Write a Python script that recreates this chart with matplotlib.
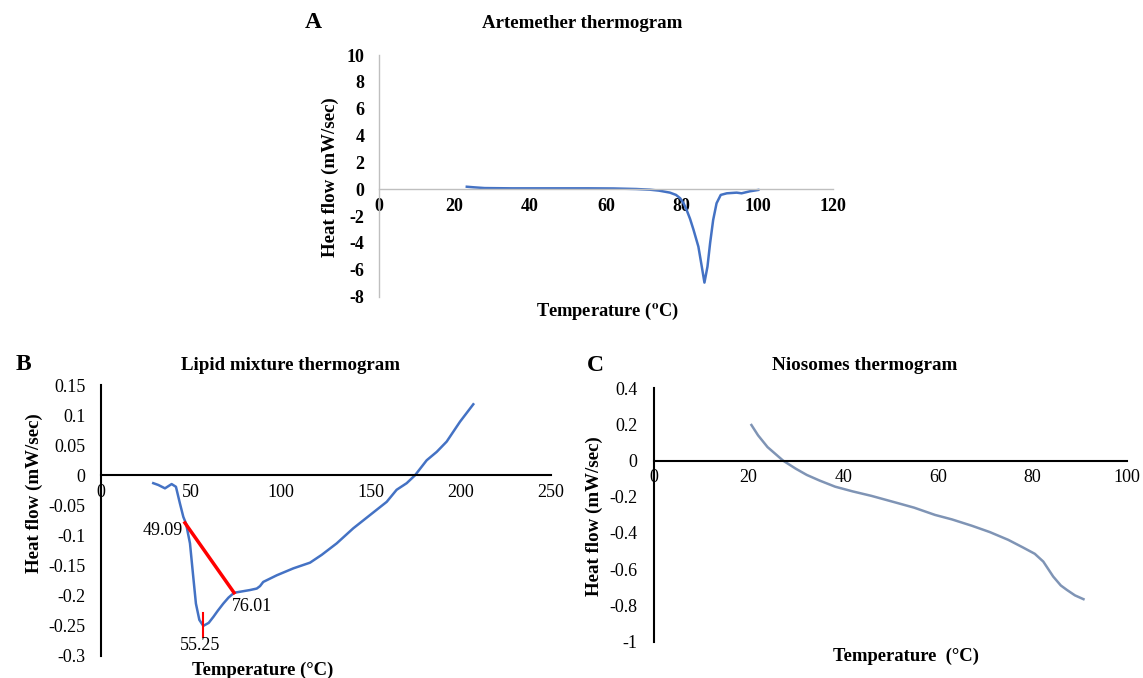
import numpy as np
import matplotlib
matplotlib.use('Agg')
import matplotlib.pyplot as plt

plt.rcParams['font.family'] = ['Liberation Serif', 'DejaVu Serif']
plt.rcParams['mathtext.fontset'] = 'stix'
plt.rcParams['axes.unicode_minus'] = False
plt.rcParams['lines.solid_joinstyle'] = 'round'

# --- A: Artemether thermogram ---
art_temp = [23.3, 25, 28, 35, 45, 55, 62, 68, 71.6, 74, 76.9, 78.5, 79.6, 80.5, 81.3, 82.2,
            83.1, 84.4, 85.3, 86.0, 86.8, 87.5, 88.3, 89.2, 90.3, 91.9, 94.5, 95.8, 98, 100.2]
art_flow = [0.19, 0.15, 0.09, 0.07, 0.07, 0.07, 0.06, 0.02, -0.03, -0.1, -0.25, -0.42, -0.67, -1.05,
            -1.54, -2.2, -3.0, -4.27, -5.76, -6.95, -5.76, -4.0, -2.29, -1.04, -0.42, -0.3, -0.25,
            -0.3, -0.15, -0.05]

# --- B: Lipid mixture thermogram ---
lip_temp = [29.2, 32, 35.7, 39.4, 41.8, 44, 45.9, 47.4, 49.6, 51.4, 52.9, 54.8, 57.0, 60, 62.6,
            65, 68.1, 71, 74.1, 78, 82.9, 86.7, 88.5, 90.3, 97.8, 107, 116.3, 122.8, 131.1,
            140.3, 149.6, 158.9, 164.4, 170, 174.6, 181.1, 186.7, 192.2, 199.6, 207]
lip_flow = [-0.013, -0.016, -0.0216, -0.0145, -0.019, -0.0465, -0.069, -0.08, -0.113, -0.168,
            -0.213, -0.240, -0.250, -0.245, -0.235, -0.225, -0.213, -0.203, -0.195, -0.193,
            -0.1905, -0.188, -0.184, -0.177, -0.166, -0.1545, -0.145, -0.132, -0.113, -0.088,
            -0.066, -0.044, -0.024, -0.013, 0.0, 0.025, 0.039, 0.056, 0.089, 0.118]
onset_line_x = [46.8, 74.1]
onset_line_y = [-0.079, -0.195]
peak_tick_x = [57.0, 57.0]
peak_tick_y = [-0.229, -0.268]

# --- C: Niosomes thermogram ---
nio_temp = [20.6, 22, 24, 27.3, 30, 32.3, 35, 38.3, 42, 46, 51.7, 55, 59.4, 63, 67.2, 71,
            74.9, 78, 80.5, 82.3, 84.4, 86, 87.3, 89, 90.8]
nio_flow = [0.197, 0.14, 0.075, 0.0, -0.045, -0.079, -0.11, -0.144, -0.17, -0.195, -0.236,
            -0.26, -0.30, -0.325, -0.36, -0.395, -0.438, -0.48, -0.515, -0.558, -0.641, -0.69,
            -0.715, -0.745, -0.766]

W, H = 1143, 678
fig = plt.figure(figsize=(W / 100, H / 100), dpi=100)


def px_axes(left, right, top, bottom):
    return fig.add_axes([left / W, 1 - bottom / H, (right - left) / W, (bottom - top) / H])


def style(ax, color, lw, bold, ypad):
    for s in ['top', 'right']:
        ax.spines[s].set_visible(False)
    ax.spines['bottom'].set_position(('data', 0))
    ax.spines['bottom'].set_color(color)
    ax.spines['left'].set_color(color)
    ax.spines['bottom'].set_linewidth(lw)
    ax.spines['left'].set_linewidth(lw)
    ax.tick_params(axis='both', length=0, labelsize=13)
    ax.tick_params(axis='y', pad=ypad)
    ax.tick_params(axis='x', pad=6)
    if bold:
        for lab in ax.get_xticklabels() + ax.get_yticklabels():
            lab.set_fontweight('bold')


blue = '#4472C4'

# panel A
axA = px_axes(378.5, 833.3, 55, 296.7)
axA.plot(art_temp, art_flow, color=blue, lw=1.8)
axA.set_xlim(0, 120)
axA.set_ylim(-8, 10)
axA.set_xticks(range(0, 121, 20))
axA.set_yticks(range(-8, 11, 2))
style(axA, '#BFBFBF', 1.0, True, 10)
fig.text(582 / W, 1 - 24 / H, 'Artemether thermogram', ha='center', va='center',
         fontsize=13.6, fontweight='bold')
fig.text(313.7 / W, 1 - 23 / H, 'A', ha='center', va='center', fontsize=17, fontweight='bold')
fig.text(330 / W, 1 - 176.7 / H, 'Heat flow (mW/sec)', ha='center', va='center',
         rotation=90, fontsize=13.6, fontweight='bold')
fig.text(607 / W, 1 - 311.7 / H, r'Temperature ($^{\mathbf{o}}$C)', ha='center', va='center',
         fontsize=13.2, fontweight='bold')

# panel B
axB = px_axes(100.7, 550.7, 385, 656)
axB.plot(lip_temp, lip_flow, color=blue, lw=1.8)
axB.plot(onset_line_x, onset_line_y, color='#FF0000', lw=2.5)
axB.plot(peak_tick_x, peak_tick_y, color='#FF0000', lw=1.5)
axB.set_xlim(0, 250)
axB.set_ylim(-0.3, 0.15)
axB.set_xticks(range(0, 251, 50))
axB.set_yticks(np.arange(-0.3, 0.151, 0.05))
axB.set_yticklabels(['-0.3', '-0.25', '-0.2', '-0.15', '-0.1', '-0.05', '0', '0.05', '0.1', '0.15'])
style(axB, 'black', 1.5, False, 11)
axB.text(onset_line_x[0] - 1, onset_line_y[0] - 0.012, '49.09', ha='right', va='center', fontsize=13)
axB.text(onset_line_x[1] - 1, onset_line_y[1] - 0.023, '76.01', ha='left', va='center', fontsize=13)
axB.text(peak_tick_x[0] - 2, peak_tick_y[1] - 0.014, '55.25', ha='center', va='center', fontsize=13)
fig.text(290.4 / W, 1 - 365 / H, 'Lipid mixture thermogram', ha='center', va='center',
         fontsize=13.6, fontweight='bold')
fig.text(23.3 / W, 1 - 365 / H, 'B', ha='center', va='center', fontsize=17, fontweight='bold')
fig.text(34 / W, 1 - 493 / H, 'Heat flow (mW/sec)', ha='center', va='center',
         rotation=90, fontsize=13.6, fontweight='bold')
fig.text(263 / W, 1 - 670 / H, 'Temperature (°C)', ha='center', va='center',
         fontsize=13.4, fontweight='bold')

# panel C
axC = px_axes(654, 1127, 388.3, 641.5)
axC.plot(nio_temp, nio_flow, color='#7F94B5', lw=1.8)
axC.set_xlim(0, 100)
axC.set_ylim(-1, 0.4)
axC.set_xticks(range(0, 101, 20))
axC.set_yticks(np.arange(-1, 0.41, 0.2))
axC.set_yticklabels(['-1', '-0.8', '-0.6', '-0.4', '-0.2', '0', '0.2', '0.4'])
style(axC, 'black', 1.5, False, 12)
fig.text(864.6 / W, 1 - 366 / H, 'Niosomes thermogram', ha='center', va='center',
         fontsize=13.8, fontweight='bold')
fig.text(595.4 / W, 1 - 366 / H, 'C', ha='center', va='center', fontsize=17, fontweight='bold')
fig.text(594.7 / W, 1 - 516 / H, 'Heat flow (mW/sec)', ha='center', va='center',
         rotation=90, fontsize=13.6, fontweight='bold')
fig.text(905.7 / W, 1 - 656.7 / H, 'Temperature  (°C)', ha='center', va='center',
         fontsize=13.4, fontweight='bold')

fig.savefig('out.png', dpi=100)
